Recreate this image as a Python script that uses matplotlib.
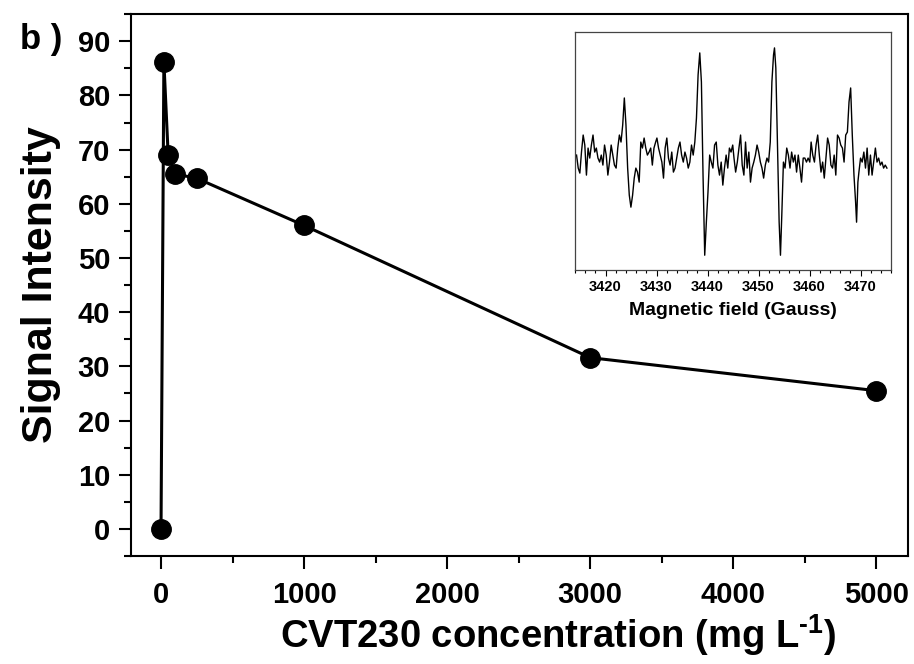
import matplotlib
matplotlib.use("Agg")
import matplotlib.pyplot as plt
from matplotlib.ticker import MultipleLocator

plt.rcParams["font.family"] = ["Liberation Sans", "DejaVu Sans"]
plt.rcParams["font.weight"] = "bold"
plt.rcParams["mathtext.fontset"] = "custom"
plt.rcParams["mathtext.rm"] = "Liberation Sans:bold"
plt.rcParams["mathtext.bf"] = "Liberation Sans:bold"

# main curve
conc = [0, 20, 50, 100, 250, 1000, 3000, 5000]
signal = [0, 86.2, 69.0, 65.5, 64.7, 56.0, 31.6, 25.5]

# inset EPR spectrum
field = [3414.32, 3414.65, 3414.97, 3415.29, 3415.62, 3415.94, 3416.26, 3416.58, 3416.91, 3417.23,
         3417.55, 3417.88, 3418.20, 3418.52, 3418.85, 3419.17, 3419.49, 3419.81, 3420.14, 3420.46,
         3420.78, 3421.11, 3421.43, 3421.75, 3422.08, 3422.40, 3422.72, 3423.04, 3423.37, 3423.69,
         3424.01, 3424.34, 3424.66, 3424.98, 3425.31, 3425.63, 3425.95, 3426.27, 3426.60, 3426.92,
         3427.24, 3427.57, 3427.89, 3428.21, 3428.54, 3428.86, 3429.18, 3429.50, 3429.83,
         3430.08, 3430.40, 3430.73, 3431.05, 3431.37, 3431.69, 3432.02, 3432.34, 3432.66, 3432.99,
         3433.31, 3433.63, 3433.96, 3434.28, 3434.60, 3434.92, 3435.25, 3435.57, 3435.89, 3436.22,
         3436.54, 3436.86, 3437.19, 3437.51, 3437.83, 3438.15, 3438.48, 3438.80, 3439.12, 3439.45,
         3439.77, 3440.09, 3440.42, 3440.74, 3441.06, 3441.38, 3441.71, 3442.03, 3442.35, 3442.68,
         3443.00, 3443.32, 3443.65, 3443.97, 3444.29, 3444.61, 3444.94,
         3445.19, 3445.51, 3445.84, 3446.16, 3446.48, 3446.80, 3447.13, 3447.45, 3447.77, 3448.10,
         3448.42, 3448.74, 3449.07, 3449.39, 3449.71, 3450.03, 3450.36, 3450.68, 3451.00, 3451.33,
         3451.65, 3451.97, 3452.30, 3452.62, 3452.94, 3453.13, 3453.39, 3453.72, 3454.04, 3454.30,
         3454.56, 3454.88, 3455.20, 3455.53, 3455.85, 3456.17, 3456.49, 3456.82, 3457.14, 3457.46,
         3457.79, 3458.11, 3458.43, 3458.76, 3459.08, 3459.40, 3459.72, 3460.05,
         3460.31, 3460.63, 3460.96, 3461.28, 3461.60, 3461.92, 3462.25, 3462.57, 3462.89, 3463.22,
         3463.54, 3463.86, 3464.19, 3464.51, 3464.83, 3465.15, 3465.48, 3465.80, 3466.12, 3466.45,
         3466.77, 3467.09, 3467.42, 3467.74, 3468.06, 3468.38, 3468.71, 3469.03, 3469.22, 3469.48,
         3469.68, 3470.00, 3470.32, 3470.65, 3470.97, 3471.29, 3471.61, 3471.94, 3472.26, 3472.58,
         3472.91, 3473.23, 3473.55, 3473.88, 3474.20, 3474.52, 3474.84, 3475.17]
epr = [5, -8, -13, 8, 25, 15, -15, 12, 2, 15,
       25, 8, 12, 2, -2, 5, -5, 15, 5, -15,
       -2, 15, 5, -5, -8, 12, 25, 18, 35, 62,
       35, -8, -35, -47, -35, -18, -8, -12, -22, 18,
       12, 22, 12, 5, 8, 12, -5, 12, 18,
       22, 12, 5, -2, -18, 12, 22, 2, -5, 8,
       -12, -8, 2, 12, 18, 5, -2, 8, 2, -8,
       -2, 15, 5, 18, 42, 85, 107, 78, -15, -95,
       -62, -32, 5, -2, -8, 15, 18, -5, -15, -2,
       -25, -8, 5, -8, 12, 8, 15,
       2, -12, -2, 12, 25, -5, -15, 18, -8, 8,
       -22, -8, -2, 5, 15, 8, -2, -8, -18, -5,
       2, -2, 18, 78, 105, 112, 92, 15, -62, -95,
       -55, -2, -8, 12, 5, -8, 8, -2, 5, -12,
       5, -8, -22, 2, 2, -2, 2, -2,
       18, 5, -2, 15, 25, 5, -12, -2, -18, 2,
       22, 15, -5, -8, 5, -15, 25, 22, 15, 12,
       -2, 25, 28, 58, 72, 25, -15, -42, -62, -22,
       -12, 2, -2, 8, -8, 12, -15, 5, -15, -2,
       12, -2, 2, -5, -2, -8, -5, -8]

fig = plt.figure(figsize=(9.14, 6.64), dpi=100)
ax = fig.add_axes([0.1433, 0.1627, 0.850, 0.816])

ax.plot(conc, signal, color="black", lw=2.2, marker="o", ms=14, zorder=3)

ax.set_xlim(-210, 5220)
ax.set_ylim(-5, 95)
ax.xaxis.set_major_locator(MultipleLocator(1000))
ax.xaxis.set_minor_locator(MultipleLocator(500))
ax.yaxis.set_major_locator(MultipleLocator(10))
ax.yaxis.set_minor_locator(MultipleLocator(5))
ax.tick_params(which="major", direction="out", length=9, width=1.5, labelsize=21, pad=6)
ax.tick_params(which="minor", direction="out", length=5, width=1.5)
ax.tick_params(axis="x", which="major", pad=9)
for s in ax.spines.values():
    s.set_linewidth(1.5)

ax.set_xlabel("CVT230 concentration (mg L$^{\\text{-1}}$)", fontsize=27.5, fontweight="bold")
ax.xaxis.set_label_coords(0.55, -0.104)
ax.set_ylabel("Signal Intensity", fontsize=31, fontweight="bold", labelpad=12)

fig.text(0.022, 0.94, "b )", fontsize=25, fontweight="bold", va="center")

# inset
ins = fig.add_axes([0.629, 0.593, 0.346, 0.359])
ins.plot(field, epr, color="black", lw=1.0)
ins.set_xlim(3414, 3476)
ins.set_ylim(-110, 128)
ins.set_yticks([])
ins.xaxis.set_major_locator(MultipleLocator(10))
ins.xaxis.set_minor_locator(MultipleLocator(2))
ins.tick_params(which="major", direction="out", length=4, width=0.8, labelsize=10.5, pad=3)
ins.tick_params(which="minor", direction="out", length=2, width=0.8)
for s in ins.spines.values():
    s.set_linewidth(0.9)
    s.set_color("#444444")
ins.set_xlabel("Magnetic field (Gauss)", fontsize=14, fontweight="bold", labelpad=6)

fig.savefig("out.png", dpi=100)
